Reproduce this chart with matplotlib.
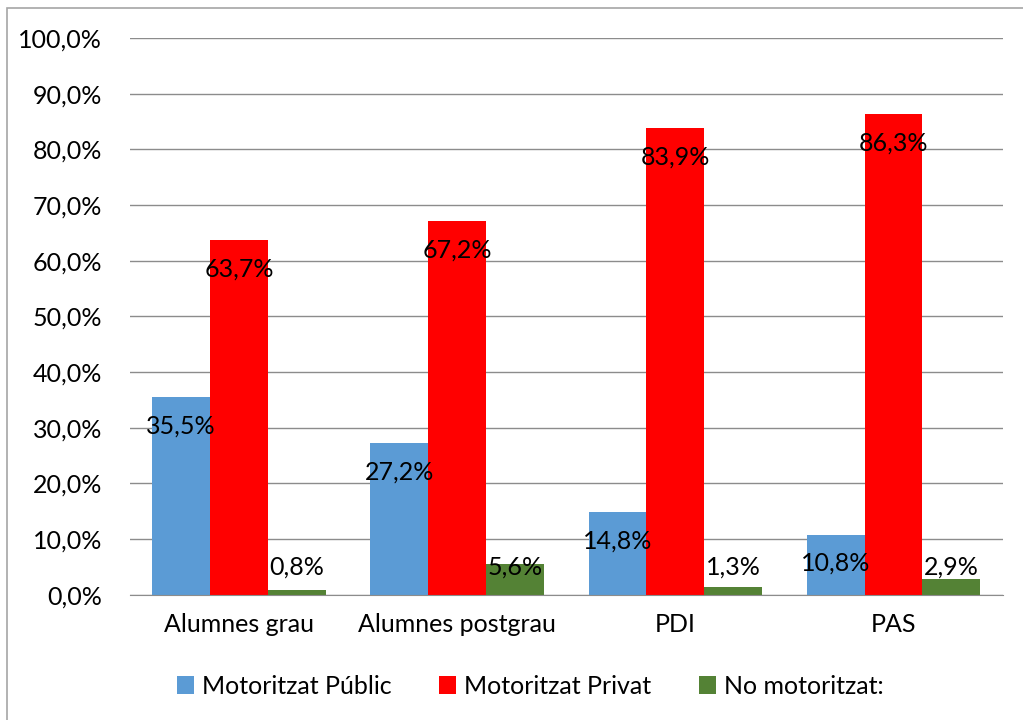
import numpy as np
from matplotlib import pyplot as plt
from matplotlib.patches import Rectangle

categories = ["Alumnes grau", "Alumnes postgrau", "PDI", "PAS"]
series_names = ["Motoritzat Públic", "Motoritzat Privat", "No motoritzat:"]
publico = [35.5, 27.2, 14.8, 10.8]
privat = [63.7, 67.2, 83.9, 86.3]
no_motor = [0.8, 5.6, 1.3, 2.9]
colors = ["#5B9BD5", "#FF0000", "#548235"]

plt.rcParams['font.family'] = ['Lato', 'DejaVu Sans']
fs = 18

fig = plt.figure(figsize=(10.23, 7.2), dpi=100)
ax = fig.add_axes([0.127, 0.174, 0.853, 0.773])

x = np.arange(len(categories))
w = 0.265
for i, (vals, name, c) in enumerate(zip([publico, privat, no_motor], series_names, colors)):
    xs = x + (i - 1) * w
    ax.bar(xs, vals, width=w, color=c, label=name, zorder=3)
    for xi, v in zip(xs, vals):
        ly = max(v - 5.2, 5.0)
        ax.text(xi, ly, f"{v:.1f}%".replace(".", ","), ha="center", va="center",
                fontsize=fs, zorder=4)

ax.set_xlim(-0.5, 3.5)
ax.set_ylim(0, 100)
ticks = np.arange(0, 101, 10)
ax.set_yticks(ticks)
ax.set_yticklabels([f"{t:.1f}%".replace(".", ",") for t in ticks], fontsize=fs)
ax.set_xticks(x)
ax.set_xticklabels(categories, fontsize=fs)
ax.tick_params(axis="both", length=0)
ax.tick_params(axis="x", pad=13)
ax.tick_params(axis="y", pad=20)
ax.grid(axis="y", color="#8c8c8c", linewidth=1, zorder=0)
for s in ["top", "right", "left"]:
    ax.spines[s].set_visible(False)
ax.spines["bottom"].set_color("#8c8c8c")
ax.spines["bottom"].set_zorder(5)

fig.legend(loc="center", bbox_to_anchor=(530 / 1023, 0.047), ncol=3, frameon=False,
           fontsize=fs, handlelength=0.7, handleheight=0.7, handletextpad=0.3,
           columnspacing=1.9)

fig.patches.append(Rectangle((7 / 1023, -0.1), 1.2, 1 - 8 / 720 + 0.1, transform=fig.transFigure,
                             fill=False, edgecolor="#a6a6a6", linewidth=1.2))

fig.savefig("out.png", dpi=100)
